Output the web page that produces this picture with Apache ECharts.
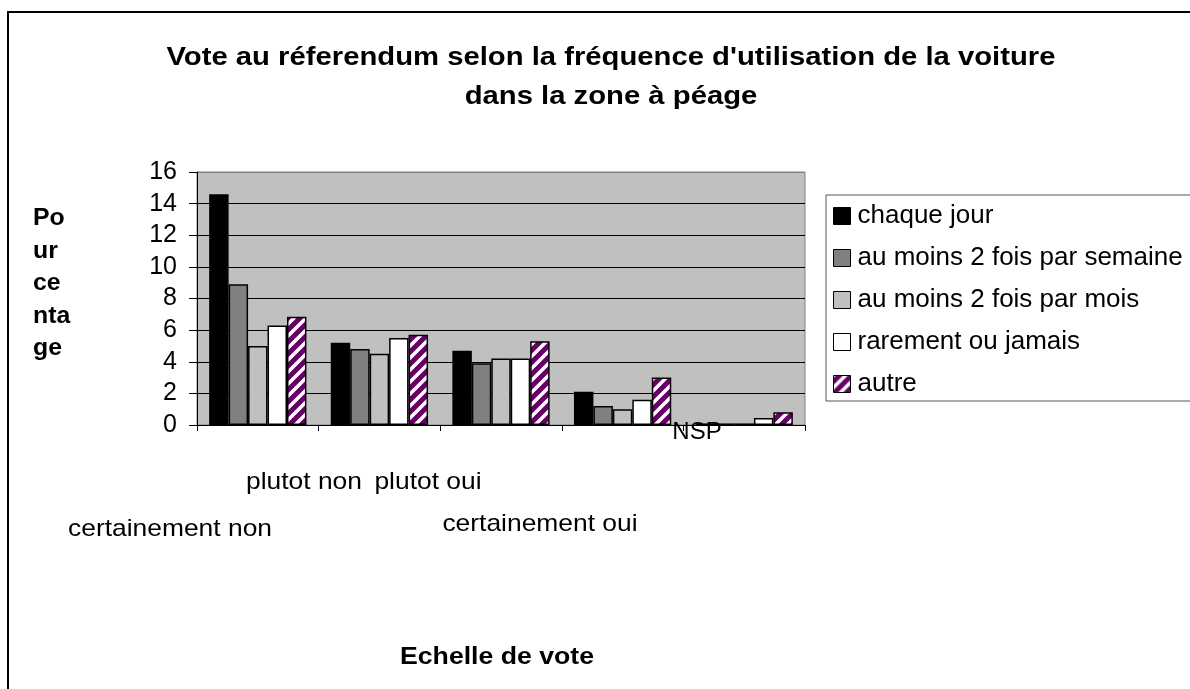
<!DOCTYPE html>
<html>
<head>
<meta charset="utf-8">
<script src="https://cdn.jsdelivr.net/npm/echarts@6/dist/echarts.min.js"></script>
<style>
  html, body { margin: 0; padding: 0; background: #ffffff; }
  #chart { width: 1190px; height: 689px; }
</style>
</head>
<body>
<div id="chart"></div>
<script>
// Vote categories (x axis) and series names
const categories = ['certainement non', 'plutot non', 'plutot oui', 'certainement oui', 'NSP'];
const seriesNames = ['chaque jour', 'au moins 2 fois par semaine', 'au moins 2 fois par mois', 'rarement ou jamais', 'autre'];

// Percentages per frequency of car use
const chaqueJour      = [14.6, 5.2, 4.7, 2.1, 0.1];
const deuxParSemaine  = [8.9, 4.8, 3.9, 1.2, 0.1];
const deuxParMois     = [5.0, 4.5, 4.2, 1.0, 0.1];
const rarementJamais  = [6.3, 5.5, 4.2, 1.6, 0.45];
const autre           = [6.85, 5.7, 5.3, 3.0, 0.8];

const yTicks = { min: 0, max: 16, interval: 2 };

const titleLines = ["Vote au réferendum selon la fréquence d'utilisation de la voiture", 'dans la zone à péage'];
const yNameLines = ['Po', 'ur', 'ce', 'nta', 'ge'];
const xName = 'Echelle de vote';

const FONT = "'Liberation Sans', Arial, sans-serif";

// Purple fill with white diagonal stripes
function stripePattern() {
  const s = 12;
  const c = document.createElement('canvas');
  c.width = s; c.height = s;
  const g = c.getContext('2d');
  g.fillStyle = '#660066';
  g.fillRect(0, 0, s, s);
  g.strokeStyle = '#ffffff';
  g.lineWidth = 3.5;
  g.beginPath();
  g.moveTo(-2, s + 2); g.lineTo(s + 2, -2);
  g.moveTo(-s / 2 - 2, s / 2 + 2); g.lineTo(s / 2 + 2, -s / 2 - 2);
  g.moveTo(s / 2 - 2, s * 1.5 + 2); g.lineTo(s * 1.5 + 2, s / 2 - 2);
  g.stroke();
  return { image: c, repeat: 'repeat' };
}

const fills = ['#000000', '#808080', '#c0c0c0', '#ffffff', stripePattern()];
const values = [chaqueJour, deuxParSemaine, deuxParMois, rarementJamais, autre];

const chart = echarts.init(document.getElementById('chart'), null, { renderer: 'canvas' });

function freeText(str, x, y, size, bold, align, sx) {
  return {
    type: 'text',
    x: x,
    y: y,
    z: 100,
    scaleX: sx,
    style: {
      text: str,
      fill: '#000',
      font: (bold ? 'bold ' : '') + size + 'px ' + FONT,
      textAlign: align,
      textVerticalAlign: 'middle'
    }
  };
}

// Category labels placed freely below the plot
const catPos = [[170, 529], [304, 482], [428, 482], [540, 524], [697, 432]];
const catLabels = categories.map((name, i) =>
  freeText(name, catPos[i][0], catPos[i][1], 24, false, 'center', i === 4 ? 1 : 1.1));

const titleTexts = titleLines.map((t, i) => freeText(t, 611, 58 + i * 39, 25, true, 'center', 1.17));
const yNameTexts = yNameLines.map((t, i) => freeText(t, 33, 219 + i * 32.5, 23, true, 'left', 1.08));
const xNameText = freeText(xName, 497, 657, 24, true, 'center', 1.11);

const splitColors = [];
for (let v = yTicks.min; v <= yTicks.max; v += yTicks.interval) {
  splitColors.push(v === yTicks.max ? '#808080' : '#000000');
}

const option = {
  backgroundColor: '#ffffff',
  animation: false,
  legend: {
    orient: 'vertical',
    left: 826,
    top: 195,
    padding: [8, 40, 4, 7],
    itemWidth: 17,
    itemHeight: 17,
    itemGap: 16,
    borderColor: '#555555',
    borderWidth: 1,
    backgroundColor: '#ffffff',
    icon: 'rect',
    itemStyle: { borderColor: '#000', borderWidth: 1 },
    textStyle: { fontFamily: FONT, fontSize: 26, color: '#000', padding: [0, 0, 0, 2] },
    data: seriesNames
  },
  grid: {
    left: 197,
    top: 172,
    width: 608,
    height: 253,
    show: true,
    backgroundColor: '#c0c0c0',
    borderColor: '#808080',
    borderWidth: 1
  },
  xAxis: {
    type: 'category',
    data: categories,
    axisLine: { lineStyle: { color: '#000', width: 1 } },
    axisTick: { show: true, length: 6, lineStyle: { color: '#000' } },
    axisLabel: { show: false },
    splitLine: { show: false }
  },
  yAxis: {
    type: 'value',
    min: yTicks.min,
    max: yTicks.max,
    interval: yTicks.interval,
    axisLine: { show: true, lineStyle: { color: '#000', width: 1 } },
    axisTick: { show: true, length: 8, lineStyle: { color: '#000' } },
    axisLabel: { fontFamily: FONT, fontSize: 25, color: '#000', margin: 20 },
    splitLine: { show: true, lineStyle: { color: splitColors, width: 1 } }
  },
  graphic: [
    {
      type: 'rect',
      z: -10,
      shape: { x: 8, y: 12, width: 1400, height: 900 },
      style: { fill: 'none', stroke: '#000', lineWidth: 2 }
    }
  ].concat(titleTexts, yNameTexts, [xNameText], catLabels),
  series: seriesNames.map((name, i) => ({
    name: name,
    type: 'bar',
    data: values[i],
    barGap: '0%',
    barCategoryGap: '20%',
    itemStyle: { color: fills[i], borderColor: '#000', borderWidth: 1.5 },
    emphasis: { disabled: true }
  }))
};

chart.setOption(option);
</script>
</body>
</html>
